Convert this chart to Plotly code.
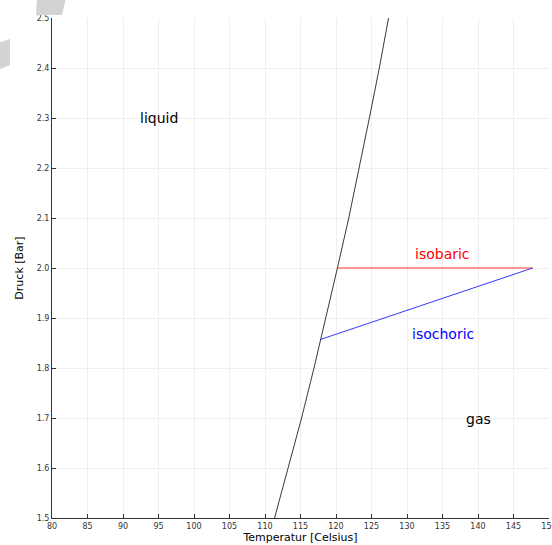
import plotly.graph_objects as go

# Saturation (boiling) curve of water
sat_T = [111.35, 113.3, 115.15, 116.9, 118.6, 120.2, 121.8, 123.3, 124.7, 126.1, 127.4]
sat_p = [1.5, 1.6, 1.7, 1.8, 1.9, 2.0, 2.1, 2.2, 2.3, 2.4, 2.5]

isobaric_T = [120.2, 147.7]
isobaric_p = [2.0, 2.0]

isochoric_T = [117.8, 147.7]
isochoric_p = [1.857, 2.0]

labels = ["liquid", "isobaric", "isochoric", "gas"]
label_T = [95.0, 135.0, 135.0, 140.0]
label_p = [2.3, 2.028, 1.868, 1.698]
label_colors = ["black", "red", "blue", "black"]

x_ticks = list(range(80, 151, 5))
y_ticks = [1.5, 1.6, 1.7, 1.8, 1.9, 2.0, 2.1, 2.2, 2.3, 2.4, 2.5]

fig = go.Figure()
fig.add_trace(go.Scatter(x=sat_T, y=sat_p, mode="lines",
                         line=dict(color="#222222", width=0.9), showlegend=False))
fig.add_trace(go.Scatter(x=isobaric_T, y=isobaric_p, mode="lines",
                         line=dict(color="#ff2020", width=0.9), showlegend=False))
fig.add_trace(go.Scatter(x=isochoric_T, y=isochoric_p, mode="lines",
                         line=dict(color="#2020ff", width=0.9), showlegend=False))

for t, x, y, c in zip(labels, label_T, label_p, label_colors):
    fig.add_annotation(x=x, y=y, text=t, showarrow=False,
                       font=dict(family="DejaVu Sans", size=14, color=c))

# decorative gray shapes at top-left
fig.add_shape(type="path", xref="paper", yref="paper",
              path="M -0.030 1.04 L 0.028 1.04 L 0.020 1.006 L -0.032 1.006 Z",
              fillcolor="#d3d3d3", line=dict(width=0), layer="above")
fig.add_shape(type="path", xref="paper", yref="paper",
              path="M -0.11 0.95 L -0.0845 0.958 L -0.0845 0.906 L -0.11 0.896 Z",
              fillcolor="#d3d3d3", line=dict(width=0), layer="above")

axis_common = dict(
    showgrid=True, gridcolor="#efefef", gridwidth=1,
    showline=True, linecolor="#333333", linewidth=1,
    ticks="inside", ticklen=4, tickcolor="#333333",
    zeroline=False, mirror=False, automargin=False,
    ticklabeloverflow="allow",
    tickfont=dict(family="DejaVu Sans", size=8, color="#333333"),
)

fig.update_layout(
    width=552, height=545,
    margin=dict(l=52, r=3, t=18, b=27),
    plot_bgcolor="white", paper_bgcolor="white",
    font=dict(family="DejaVu Sans"),
    xaxis=dict(range=[80, 150], tickvals=x_ticks,
               title=dict(text="Temperatur [Celsius]", standoff=3,
                          font=dict(size=11, color="black")),
               **axis_common),
    yaxis=dict(range=[1.5, 2.5], tickvals=y_ticks,
               ticktext=[f"{v:.1f}" for v in y_ticks],
               title=dict(text="Druck [Bar]", standoff=10,
                          font=dict(size=11, color="black")),
               **axis_common),
)

fig.write_html("out.html", config={"displayModeBar": False},
               post_script="document.body.style.margin='0';document.body.style.overflow='hidden';")
